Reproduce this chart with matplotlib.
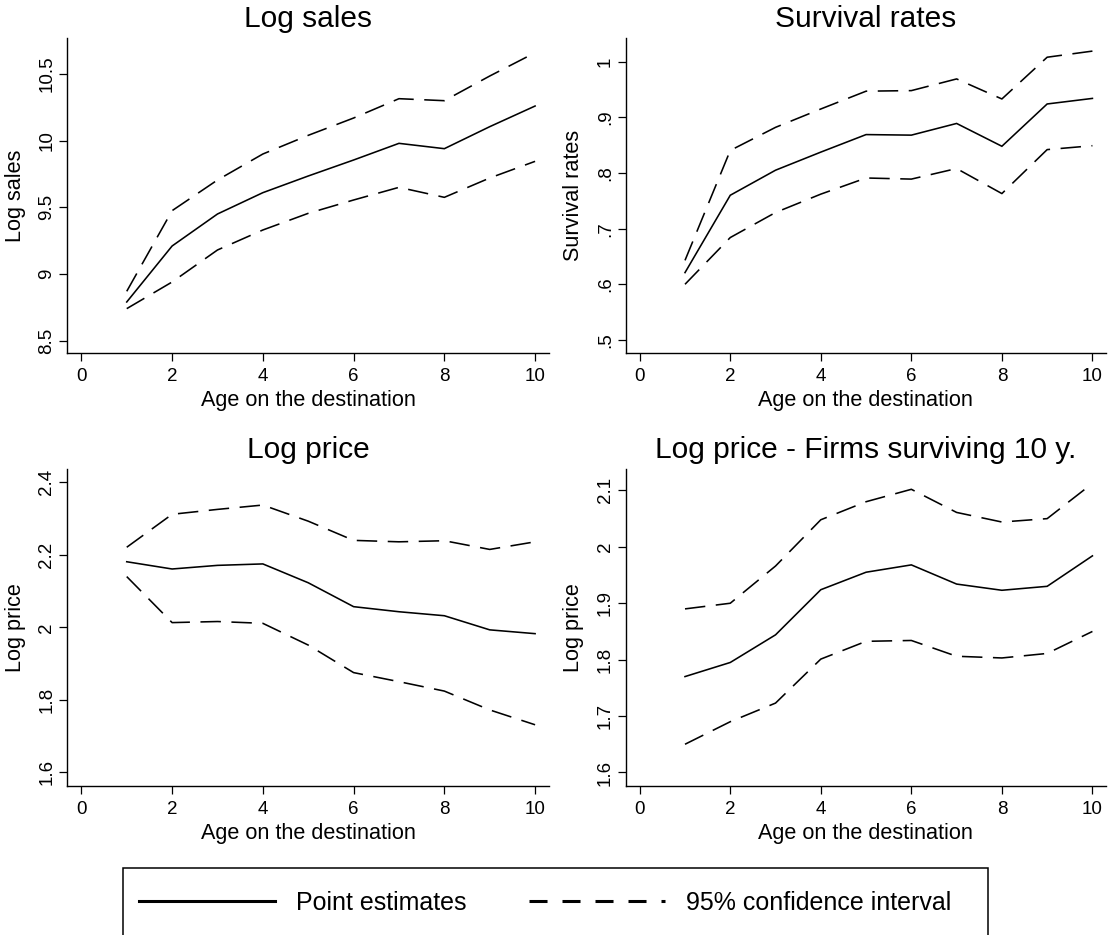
import matplotlib
matplotlib.use("Agg")
import matplotlib.pyplot as plt
from matplotlib.lines import Line2D
from matplotlib.patches import Rectangle
from matplotlib.ticker import FixedLocator, FixedFormatter

plt.rcParams['font.family'] = ['Liberation Sans', 'DejaVu Sans']

age = [1, 2, 3, 4, 5, 6, 7, 8, 9, 10]
x_ticks = [0, 2, 4, 6, 8, 10]

# Log sales
sales_pt = [8.79, 9.21, 9.45, 9.61, 9.735, 9.855, 9.98, 9.94, 10.105, 10.26]
sales_hi = [8.87, 9.475, 9.705, 9.90, 10.04, 10.17, 10.315, 10.30, 10.485, 10.66]
sales_lo = [8.74, 8.94, 9.18, 9.33, 9.455, 9.555, 9.65, 9.575, 9.72, 9.845]
sales_ticks = [8.5, 9, 9.5, 10, 10.5]
sales_labels = ["8.5", "9", "9.5", "10", "10.5"]

# Survival rates
surv_pt = [0.621, 0.760, 0.805, 0.8375, 0.869, 0.868, 0.889, 0.848, 0.924, 0.934]
surv_hi = [0.643, 0.8405, 0.882, 0.915, 0.947, 0.948, 0.969, 0.933, 1.008, 1.019]
surv_lo = [0.600, 0.684, 0.729, 0.762, 0.791, 0.789, 0.808, 0.763, 0.842, 0.849]
surv_ticks = [0.5, 0.6, 0.7, 0.8, 0.9, 1.0]
surv_labels = [".5", ".6", ".7", ".8", ".9", "1"]

# Log price
price_pt = [2.181, 2.161, 2.171, 2.175, 2.123, 2.057, 2.043, 2.032, 1.993, 1.9825]
price_hi = [2.221, 2.312, 2.3255, 2.3375, 2.293, 2.240, 2.236, 2.239, 2.215, 2.236]
price_lo = [2.140, 2.013, 2.016, 2.011, 1.951, 1.875, 1.850, 1.824, 1.772, 1.731]
price_ticks = [1.6, 1.8, 2.0, 2.2, 2.4]
price_labels = ["1.6", "1.8", "2", "2.2", "2.4"]

# Log price - firms surviving 10 years
surv10_pt = [1.770, 1.795, 1.844, 1.924, 1.955, 1.968, 1.934, 1.923, 1.930, 1.984]
surv10_hi = [1.890, 1.900, 1.966, 2.048, 2.080, 2.102, 2.061, 2.044, 2.050, 2.1125]
surv10_lo = [1.650, 1.690, 1.723, 1.801, 1.8325, 1.834, 1.806, 1.803, 1.811, 1.850]
surv10_ticks = [1.6, 1.7, 1.8, 1.9, 2.0, 2.1]
surv10_labels = ["1.6", "1.7", "1.8", "1.9", "2", "2.1"]

titles = ["Log sales", "Survival rates", "Log price", "Log price - Firms surviving 10 y."]
ylabels = ["Log sales", "Survival rates", "Log price", "Log price"]
xlabel = "Age on the destination"
legend_labels = ["Point estimates", "95% confidence interval"]

W, H = 1109, 935
fig = plt.figure(figsize=(W / 100, H / 100), dpi=100)
fig.patch.set_facecolor("white")

def rect(x0, x1, ytop, ybot):
    return [x0 / W, 1 - ybot / H, (x1 - x0) / W, (ybot - ytop) / H]

rects = [
    rect(67.3, 548.7, 38.3, 353.3),
    rect(625.7, 1106.0, 38.3, 353.3),
    rect(67.3, 548.7, 469.0, 786.0),
    rect(625.7, 1106.0, 469.0, 786.0),
]
ylims = [(8.405, 10.768), (0.476, 1.042), (1.562, 2.437), (1.576, 2.138)]
data = [
    (sales_pt, sales_hi, sales_lo, sales_ticks, sales_labels),
    (surv_pt, surv_hi, surv_lo, surv_ticks, surv_labels),
    (price_pt, price_hi, price_lo, price_ticks, price_labels),
    (surv10_pt, surv10_hi, surv10_lo, surv10_ticks, surv10_labels),
]

LW = 1.15
dash_plot = (12.8, 6.6)

for i, (r, yl, d) in enumerate(zip(rects, ylims, data)):
    pt, hi, lo, yt, ytl = d
    ax = fig.add_axes(r)
    ax.plot(age, pt, color="black", lw=LW, solid_joinstyle="miter")
    ax.plot(age, hi, color="black", lw=LW, dashes=dash_plot)
    ax.plot(age, lo, color="black", lw=LW, dashes=dash_plot)
    ax.set_xlim(-0.31, 10.3)
    ax.set_ylim(*yl)
    for s in ["top", "right"]:
        ax.spines[s].set_visible(False)
    for s in ["left", "bottom"]:
        ax.spines[s].set_linewidth(1.0)
    ax.xaxis.set_major_locator(FixedLocator(x_ticks))
    ax.xaxis.set_major_formatter(FixedFormatter([str(v) for v in x_ticks]))
    ax.yaxis.set_major_locator(FixedLocator(yt))
    ax.yaxis.set_major_formatter(FixedFormatter(ytl))
    ax.tick_params(axis="both", direction="out", length=5.5, width=0.9,
                   labelsize=13.5)
    ax.tick_params(axis="x", pad=5)
    ax.tick_params(axis="y", pad=3, labelrotation=90)
    for lab in ax.get_yticklabels():
        lab.set_va("center")
    ax.set_title(titles[i], fontsize=21.5, pad=8)
    ax.set_xlabel(xlabel, fontsize=15.6, labelpad=4)
    ax.set_ylabel(ylabels[i], fontsize=15.6)
    ax.yaxis.set_label_coords(-0.086, 0.5)

# legend box
fig.patches.append(Rectangle((123.3 / W, 1 - 950 / H), (988.3 - 123.3) / W, (950 - 868.3) / H,
                             transform=fig.transFigure, fill=False, edgecolor="black",
                             lw=1.1))
handles = [
    Line2D([], [], color="black", lw=2.2),
    Line2D([], [], color="black", lw=2.2, dashes=(5.9, 4.9)),
]
fig.legend(handles, legend_labels, loc="center left",
           bbox_to_anchor=(139.3 / W, 1 - 903 / H), ncol=2, frameon=False,
           fontsize=18, borderpad=0, borderaxespad=0, handlelength=5.43,
           handletextpad=0.85, columnspacing=2.5)

fig.savefig("out.png", dpi=100, facecolor="white")
